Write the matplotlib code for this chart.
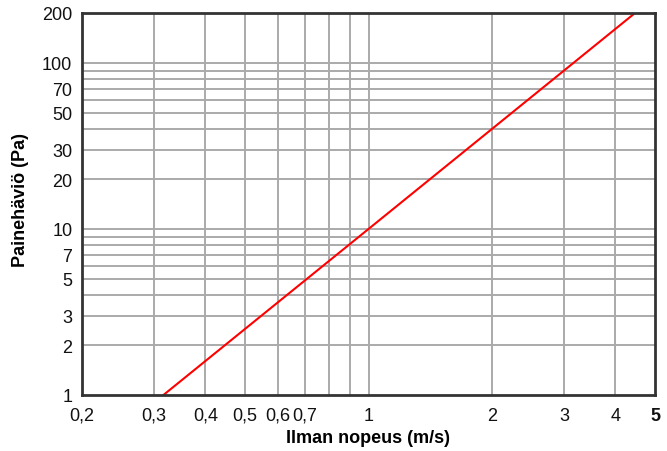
import numpy as np
import matplotlib.pyplot as plt
from matplotlib.ticker import FixedLocator, FixedFormatter, NullFormatter

plt.rcParams['font.family'] = ['Liberation Sans', 'DejaVu Sans']

# pressure drop vs air velocity (straight line on log-log)
velocity = [0.316, 1.0, 4.47]
pressure = [1.0, 10.0, 200.0]

x_ticks = [0.2, 0.3, 0.4, 0.5, 0.6, 0.7, 1, 2, 3, 4, 5]
x_labels = ['0,2', '0,3', '0,4', '0,5', '0,6', '0,7', '1', '2', '3', '4', '5']
x_grid = [0.3, 0.4, 0.5, 0.6, 0.7, 0.8, 0.9, 1, 2, 3, 4]

y_ticks = [1, 2, 3, 5, 7, 10, 20, 30, 50, 70, 100, 200]
y_labels = ['1', '2', '3', '5', '7', '10', '20', '30', '50', '70', '100', '200']
y_grid = [2, 3, 4, 5, 6, 7, 8, 9, 10, 20, 30, 40, 50, 60, 70, 80, 90, 100]

fig = plt.figure(figsize=(6.67, 4.52), dpi=100)
ax = fig.add_axes([82 / 667, 1 - 396 / 452, 573 / 667, 382 / 452])

ax.set_xscale('log')
ax.set_yscale('log')
ax.set_xlim(0.2, 5)
ax.set_ylim(1, 200)

# grid lines drawn by hand at the chart's own positions
for g in x_grid:
    ax.axvline(g, color='#aaaaaa', lw=1.4, zorder=1)
for g in y_grid:
    ax.axhline(g, color='#aaaaaa', lw=1.4, zorder=1)

ax.plot(velocity, pressure, color='#ff0000', lw=1.5, zorder=3)

ax.xaxis.set_major_locator(FixedLocator(x_ticks))
ax.xaxis.set_major_formatter(FixedFormatter(x_labels))
ax.xaxis.set_minor_locator(FixedLocator([]))
ax.xaxis.set_minor_formatter(NullFormatter())
ax.yaxis.set_major_locator(FixedLocator(y_ticks))
ax.yaxis.set_major_formatter(FixedFormatter(y_labels))
ax.yaxis.set_minor_locator(FixedLocator([]))
ax.yaxis.set_minor_formatter(NullFormatter())

ax.tick_params(axis='both', length=0, labelsize=13, colors='#111111')
ax.tick_params(axis='x', pad=8.4)
ax.tick_params(axis='y', pad=7)
ax.get_xticklabels()[-1].set_fontweight('bold')

for s in ax.spines.values():
    s.set_color('#333333')
    s.set_linewidth(2)
    s.set_zorder(4)

ax.set_xlabel('Ilman nopeus (m/s)', fontsize=13, fontweight='bold')
ax.set_ylabel('Painehäviö (Pa)', fontsize=13, fontweight='bold')
ax.xaxis.set_label_coords(0.5, -0.09)
ax.yaxis.set_label_coords(-0.093, 0.513)

fig.savefig('out.png', dpi=100)
